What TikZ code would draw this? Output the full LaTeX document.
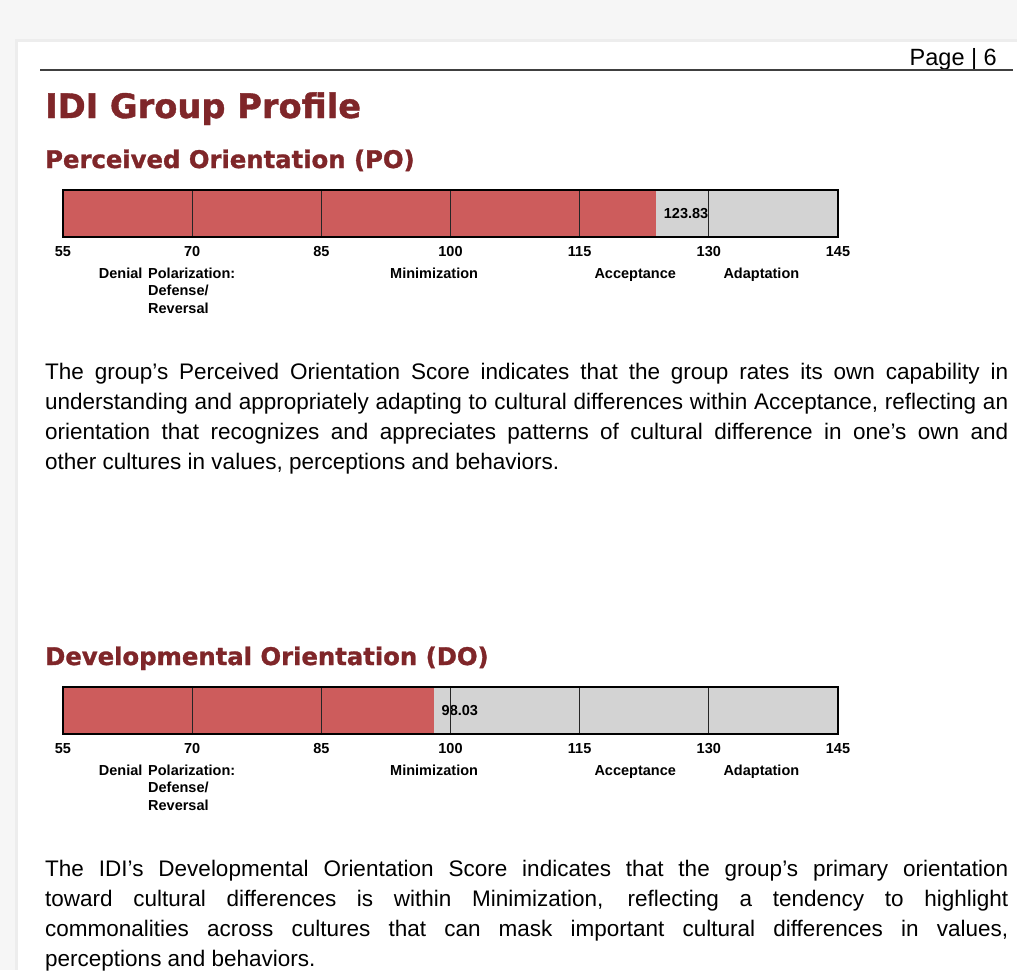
\documentclass[tikz,border=0pt]{standalone}
\usepackage{fontspec}
\setmainfont{Liberation Sans}
\newfontfamily\headfont{DejaVu Sans}[BoldFeatures={FakeBold=1.2}]
\usetikzlibrary{positioning}
\definecolor{idired}{RGB}{127,38,41}
\definecolor{barred}{RGB}{205,92,92}
\definecolor{bargray}{RGB}{211,211,211}
\definecolor{pagebg}{RGB}{246,246,246}

\begin{document}
\begin{tikzpicture}
	[
	x = 1pt, y = -1pt,
	title/.style = {anchor=base west,inner sep=0pt,text=idired,font=\headfont\bfseries\fontsize{33.7}{40}\selectfont},
	heading/.style = {anchor=base west,inner sep=0pt,text=idired,font=\headfont\bfseries\fontsize{24.3}{29}\selectfont},
	pagenum/.style = {anchor=base east,inner sep=0pt,font=\fontsize{23.5}{28}\selectfont},
	para/.style = {anchor=base west,inner sep=0pt,text width=963pt,align=justify,font=\fontsize{22.5}{30.3}\selectfont},
	redbar/.style = {fill=barred},
	graybar/.style = {fill=bargray},
	divider/.style = {draw=black!85,line width=1.2pt},
	frame/.style = {draw=black,line width=1.8pt},
	score/.style = {anchor=west,inner sep=0pt,xshift=8pt,font=\bfseries\fontsize{14.5}{17.5}\selectfont},
	tick/.style = {anchor=base,inner sep=0pt,font=\bfseries\fontsize{14.5}{17.5}\selectfont},
	stage/.style = {anchor=base,inner sep=0pt,font=\bfseries\fontsize{14.5}{17.5}\selectfont}
	]
		\useasboundingbox (0,0) rectangle (1017,970);

		% page and its shadow
		\fill[pagebg] (0,0) rectangle (1017,970);
		\fill[gray!7] (9,33) rectangle (1017,970);
		\fill[gray!14] (15,39) rectangle (1017,970);
		\fill[white] (18,42) rectangle (1017,970);

		\coordinate (rule a) at (40,70);
		\coordinate (rule b) at (1013,70);
		\node[pagenum] (page) at (997,65) {Page | 6};
		\draw[black!75, line width=1.4pt] (rule a) -- (rule b);

		\node[title] (title) at (45,118) {IDI Group Profile};
		\node[heading] (po head) at (45,168) {Perceived Orientation (PO)};

		% PO bar, x in score units
		\begin{scope}[shift={(-410.61,190)}, x=8.6111pt]
		\fill[redbar] (55,0) rectangle (123.83,47);
		\fill[graybar] (123.83,0) rectangle (145,47);
		\node[score] (po score) at (123.83,23.5) {123.83};
		\draw[divider] (70,0) -- (70,47);
		\draw[divider] (85,0) -- (85,47);
		\draw[divider] (100,0) -- (100,47);
		\draw[divider] (115,0) -- (115,47);
		\draw[divider] (130,0) -- (130,47);
		\draw[frame] (55,0) rectangle (145,47);

		\node[tick] (po 55) at (55,66) {55};
		\node[tick] (po 70) at (70,66) {70};
		\node[tick] (po 85) at (85,66) {85};
		\node[tick] (po 100) at (100,66) {100};
		\node[tick] (po 115) at (115,66) {115};
		\node[tick] (po 130) at (130,66) {130};
		\node[tick] (po 145) at (145,66) {145};

		\node[stage] (po denial) at (61.7,88) {Denial};
		\node[stage,anchor=base west,align=left] (po polar) at (64.87,123) {Polarization:\\Defense/\\Reversal};
		\node[stage] (po mini) at (98.1,88) {Minimization};
		\node[stage] (po accept) at (121.45,88) {Acceptance};
		\node[stage] (po adapt) at (136.1,88) {Adaptation};
		\end{scope}

		\node[para] (po text) at (45,379) {\hyphenpenalty=10000
		The group’s Perceived Orientation Score indicates that the group rates its own capability in\linebreak
		understanding and appropriately adapting to cultural differences within Acceptance, reflecting an\linebreak
		orientation that recognizes and appreciates patterns of cultural difference in one’s own and\linebreak
		other cultures in values, perceptions and behaviors.};

		\node[heading] (do head) at (45,665) {Developmental Orientation (DO)};

		% DO bar
		\begin{scope}[shift={(-410.61,687)}, x=8.6111pt]
		\fill[redbar] (55,0) rectangle (98.03,47);
		\fill[graybar] (98.03,0) rectangle (145,47);
		\node[score] (do score) at (98.03,23.5) {98.03};
		\draw[divider] (70,0) -- (70,47);
		\draw[divider] (85,0) -- (85,47);
		\draw[divider] (100,0) -- (100,47);
		\draw[divider] (115,0) -- (115,47);
		\draw[divider] (130,0) -- (130,47);
		\draw[frame] (55,0) rectangle (145,47);

		\node[tick] (do 55) at (55,66) {55};
		\node[tick] (do 70) at (70,66) {70};
		\node[tick] (do 85) at (85,66) {85};
		\node[tick] (do 100) at (100,66) {100};
		\node[tick] (do 115) at (115,66) {115};
		\node[tick] (do 130) at (130,66) {130};
		\node[tick] (do 145) at (145,66) {145};

		\node[stage] (do denial) at (61.7,88) {Denial};
		\node[stage,anchor=base west,align=left] (do polar) at (64.87,123) {Polarization:\\Defense/\\Reversal};
		\node[stage] (do mini) at (98.1,88) {Minimization};
		\node[stage] (do accept) at (121.45,88) {Acceptance};
		\node[stage] (do adapt) at (136.1,88) {Adaptation};
		\end{scope}

		\node[para] (do text) at (45,876) {\hyphenpenalty=10000
		The IDI’s Developmental Orientation Score indicates that the group’s primary orientation\linebreak
		toward cultural differences is within Minimization, reflecting a tendency to highlight\linebreak
		commonalities across cultures that can mask important cultural differences in values,\linebreak
		perceptions and behaviors.};

	\end{tikzpicture}
\end{document}
